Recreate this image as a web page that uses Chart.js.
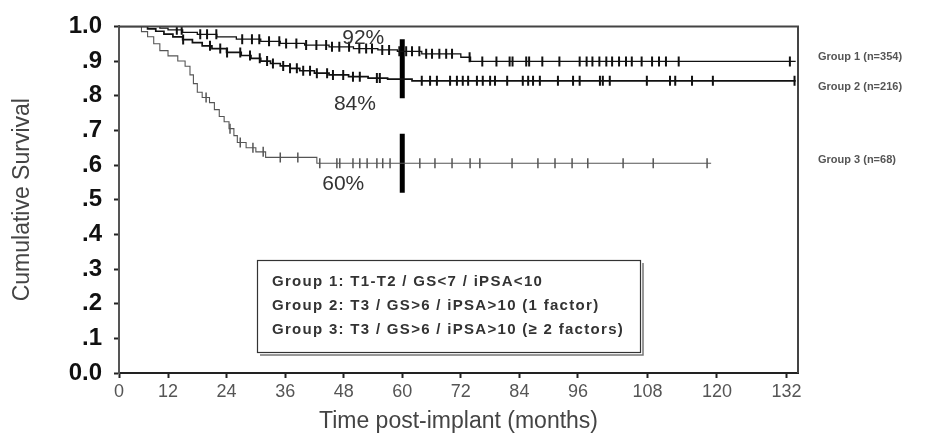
<!DOCTYPE html>
<html><head><meta charset="utf-8">
<script src="https://cdn.jsdelivr.net/npm/chart.js@4.4.1/dist/chart.umd.min.js"></script>
<style>html,body{margin:0;padding:0;background:#fff}#wrap{width:937px;height:436px}</style>
</head><body><div id="wrap"><canvas id="c" width="937" height="436"></canvas></div>
<script>
// ---------- data ----------
const xTickValues = [0, 12, 24, 36, 48, 60, 72, 84, 96, 108, 120, 132];
const yTickLabels = ['0.0', '.1', '.2', '.3', '.4', '.5', '.6', '.7', '.8', '.9', '1.0'];

const groupNames = ['Group 1 (n=354)', 'Group 2 (n=216)', 'Group 3 (n=68)'];
const legendLines = [
  'Group 1: T1-T2 / GS<7 / iPSA<10',
  'Group 2: T3 / GS>6 / iPSA>10 (1 factor)',
  'Group 3: T3 / GS>6 / iPSA>10 (\u2265 2 factors)'
];
const percentLabels = ['92%', '84%', '60%'];

// Kaplan-Meier step curves: event times (months) and survival after each step
const g1Times = [0, 10, 12, 15, 18, 22, 26, 31, 35, 40, 45, 50, 55, 59, 64, 72, 74, 133.6];
const g1Surv  = [1, 0.995, 0.99, 0.983, 0.977, 0.970, 0.963, 0.957, 0.951, 0.946, 0.941, 0.936, 0.932, 0.928, 0.921, 0.911, 0.899, 0.899];

const g2Times = [0, 7, 9, 11, 13, 15, 17, 19, 21, 24, 27, 29, 31, 33, 35, 37, 39, 42, 45, 49, 53, 57, 62, 133.6];
const g2Surv  = [1, 0.993, 0.986, 0.978, 0.970, 0.962, 0.953, 0.944, 0.936, 0.925, 0.916, 0.908, 0.900, 0.893, 0.886, 0.879, 0.872, 0.865, 0.860, 0.855, 0.851, 0.848, 0.843, 0.843];

const g3Times = [0, 5.5, 7, 8.5, 10, 12, 14, 15.5, 16.5, 17.2, 18, 19, 20.5, 21.5, 22.5, 23.5, 24.5, 25.5, 26.2, 28, 30, 32, 42.5, 119];
const g3Surv  = [1, 0.985, 0.97, 0.95, 0.93, 0.915, 0.9, 0.885, 0.86, 0.835, 0.81, 0.795, 0.78, 0.76, 0.74, 0.725, 0.705, 0.685, 0.665, 0.65, 0.638, 0.622, 0.605, 0.605];

// censored observations (months)
const g1Censor = [13.8, 14.8, 18.6, 20, 21.9, 27.2, 29.2, 30.7, 32.7, 34.8, 36.2, 38.3, 40.3, 42.4, 44.4, 45.6, 47.1, 49.1, 51.2, 52.6, 53.8, 55.9, 57.3, 59.4, 60.8, 62, 63.5, 64.9, 66.1, 67.6, 69, 70.2, 73.8, 76.4, 79.3, 82, 82.6, 85.4, 86, 88.7, 92.2, 96.3, 97.5, 98.5, 99.7, 100.9, 101.9, 103.1, 104.3, 105.3, 107, 108.8, 110, 111.2, 113.4, 132.6];
const g2Censor = [15.1, 20.6, 22.7, 24.1, 26.8, 28.8, 30.8, 32.3, 33.5, 35.6, 37, 38.4, 39.7, 41.1, 42.5, 44.6, 45.8, 47.9, 49.9, 51.3, 54.8, 55.4, 64, 65.7, 67.1, 69.8, 71.2, 72.4, 73.5, 75.3, 76.5, 78, 79, 81.5, 84.7, 85.8, 86.8, 88.2, 91.9, 95, 96.3, 99.8, 100.3, 101.5, 107.9, 111.9, 112.8, 115.7, 119.3, 133.4];
const g3Censor = [19.8, 24.7, 26.8, 29.4, 31.5, 35, 38.6, 43.1, 46.6, 47.2, 49.9, 51.3, 52.8, 54.8, 56, 57.5, 63.6, 66.7, 70.2, 73.9, 75.9, 82.5, 87.8, 91.3, 94.8, 97.7, 103.8, 109, 118.3];

// 5-year markers (vertical bars at 60 months)
const fiveYearMonth = 60;
const fiveYearTop = [0.963, 0.690];
const fiveYearBottom = [0.793, 0.520];

// ---------- helpers ----------
function survivalAt(times, surv, t) {
  let s = surv[0];
  for (let i = 0; i < times.length; i++) { if (times[i] <= t) s = surv[i]; else break; }
  return s;
}
const curve = (times, surv) => times.map((t, i) => ({x: t, y: surv[i]}));
const marks = (c, times, surv) => c.map(t => ({x: t, y: survivalAt(times, surv, t)}));

// Linear scale with a piecewise axis (the printed axis is not evenly spaced)
class PiecewiseLinearScale extends Chart.LinearScale {
  _warp(v) {
    const kv = this.options.knotValues, kf = this.options.knotFractions;
    let i = 0;
    while (i < kv.length - 2 && v > kv[i + 1]) i++;
    return kf[i] + (v - kv[i]) / (kv[i + 1] - kv[i]) * (kf[i + 1] - kf[i]);
  }
  _unwarp(f) {
    const kv = this.options.knotValues, kf = this.options.knotFractions;
    let i = 0;
    while (i < kf.length - 2 && f > kf[i + 1]) i++;
    return kv[i] + (f - kf[i]) / (kf[i + 1] - kf[i]) * (kv[i + 1] - kv[i]);
  }
  getPixelForValue(value) {
    if (value === null || value === undefined || isNaN(value)) return NaN;
    return this.getPixelForDecimal(this._warp(value));
  }
  getValueForPixel(pixel) { return this._unwarp(this.getDecimalForPixel(pixel)); }
}
PiecewiseLinearScale.id = 'piecewiseLinear';
PiecewiseLinearScale.defaults = Chart.LinearScale.defaults;
Chart.register(PiecewiseLinearScale);

const FONT = '"Liberation Sans", Arial, sans-serif';

const annotationPlugin = {
  id: 'kmAnnotations',
  afterDatasetsDraw(chart) {
    const {ctx, chartArea: a, scales: {x, y}} = chart;
    ctx.save();
    // plot frame: top and right
    ctx.strokeStyle = '#444'; ctx.lineWidth = 2;
    ctx.beginPath(); ctx.moveTo(a.left, a.top); ctx.lineTo(a.right, a.top); ctx.lineTo(a.right, a.bottom); ctx.stroke();

    // percent labels
    ctx.fillStyle = '#333'; ctx.font = '21px ' + FONT; ctx.textAlign = 'center'; ctx.textBaseline = 'middle';
    const pctAt = [[52, 0.966], [50.3, 0.776], [47.9, 0.546]];
    percentLabels.forEach((t, i) => ctx.fillText(t, x.getPixelForValue(pctAt[i][0]), y.getPixelForValue(pctAt[i][1])));

    // group labels at the right
    ctx.font = 'bold 11px ' + FONT; ctx.fillStyle = '#555'; ctx.textAlign = 'left';
    const ends = [g1Surv[g1Surv.length - 1], g2Surv[g2Surv.length - 1], g3Surv[g3Surv.length - 1]];
    const dy = [-4, 6, -3];
    groupNames.forEach((t, i) => ctx.fillText(t, a.right + 20, y.getPixelForValue(ends[i]) + dy[i]));

    // legend box
    const bx = 257, by = 260, bw = 383, bh = 92;
    ctx.fillStyle = '#fff'; ctx.fillRect(bx, by, bw, bh);
    ctx.strokeStyle = '#333'; ctx.lineWidth = 1.2; ctx.strokeRect(bx + 0.5, by + 0.5, bw, bh);
    ctx.strokeStyle = '#777'; ctx.lineWidth = 1.5;
    ctx.beginPath(); ctx.moveTo(bx + 3, by + bh + 3); ctx.lineTo(bx + bw + 3, by + bh + 3); ctx.lineTo(bx + bw + 3, by + 3); ctx.stroke();
    ctx.fillStyle = '#333'; ctx.font = 'bold 15px ' + FONT; ctx.textAlign = 'left';
    if ('letterSpacing' in ctx) ctx.letterSpacing = '1.3px';
    legendLines.forEach((t, i) => ctx.fillText(t, bx + 15, by + 22 + i * 24));
    ctx.restore();
  }
};

const datasets = [
  {data: curve(g1Times, g1Surv), borderColor: '#111', borderWidth: 1.3},
  {data: curve(g2Times, g2Surv), borderColor: '#111', borderWidth: 1.7},
  {data: curve(g3Times, g3Surv), borderColor: '#555', borderWidth: 1.1},
].map(d => Object.assign(d, {stepped: true, pointRadius: 0, fill: false}));

[[g1Censor, g1Times, g1Surv, '#111', 2], [g2Censor, g2Times, g2Surv, '#111', 2], [g3Censor, g3Times, g3Surv, '#555', 1.5]]
  .forEach(([c, t, s, col, w]) => datasets.push({
    data: marks(c, t, s), showLine: false, pointStyle: 'line', rotation: 90,
    pointRadius: 5, borderColor: col, pointBorderColor: col, pointBorderWidth: w, borderWidth: w
  }));

fiveYearTop.forEach((top, i) => datasets.push({
  data: [{x: fiveYearMonth, y: top}, {x: fiveYearMonth, y: fiveYearBottom[i]}],
  borderColor: '#000', borderWidth: 5, pointRadius: 0, borderCapStyle: 'butt'
}));

new Chart(document.getElementById('c'), {
  type: 'line',
  data: {datasets},
  plugins: [annotationPlugin],
  options: {
    responsive: false, animation: false, devicePixelRatio: 1,
    layout: {padding: {left: 0, top: 25, right: 139, bottom: 0}},
    plugins: {legend: {display: false}, tooltip: {enabled: false}},
    scales: {
      x: {
        type: 'piecewiseLinear', min: 0, max: 134,
        knotValues: [0, 12, 96, 134], knotFractions: [0, 0.0722, 0.6759, 1],
        afterBuildTicks: s => { s.ticks = xTickValues.map(v => ({value: v})); },
        afterFit: s => { s.height = 63; },
        grid: {drawOnChartArea: false, tickLength: 5, tickWidth: 2, tickColor: '#222'},
        border: {display: true, color: '#222', width: 2},
        ticks: {autoSkip: false, maxRotation: 0, padding: 3, color: '#555', font: {family: FONT, size: 18},
                callback: v => String(v)},
        title: {display: true, text: 'Time post-implant (months)', color: '#444',
                font: {family: FONT, size: 23}, padding: {top: 0, bottom: 1}}
      },
      y: {
        min: 0, max: 1,
        afterBuildTicks: s => { s.ticks = yTickLabels.map((_, i) => ({value: i / 10})); },
        afterFit: s => { s.width = 119; },
        grid: {drawOnChartArea: false, tickLength: 5, tickWidth: 2, tickColor: '#222'},
        border: {display: true, color: '#555', width: 2},
        ticks: {padding: 12, color: '#111', font: {family: FONT, size: 24, weight: 'bold'},
                callback: (v, i) => yTickLabels[i]},
        title: {display: true, text: 'Cumulative Survival', color: '#444',
                font: {family: FONT, size: 23}, padding: {top: 9, bottom: 0}}
      }
    }
  }
});
</script></body></html>
